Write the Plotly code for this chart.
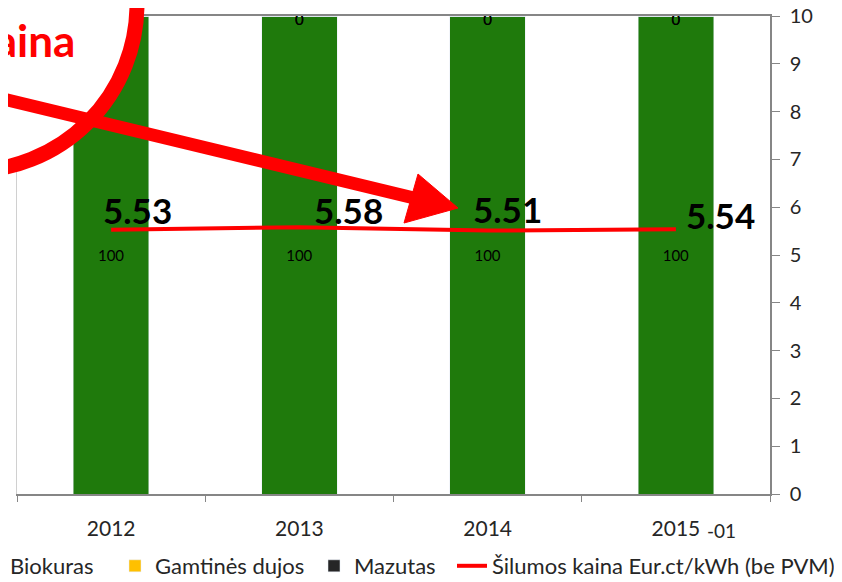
import plotly.graph_objects as go

# ---- data ----
years = ["2012", "2013", "2014", "2015"]
biokuras = [100, 100, 100, 100]
gamtines_dujos = [0, 0, 0, 0]
mazutas = [0, 0, 0, 0]
kaina = [5.53, 5.58, 5.51, 5.54]
right_ticks = [0, 1, 2, 3, 4, 5, 6, 7, 8, 9, 10]

# ---- layout geometry (screen pixels; page body has an 8px margin) ----
OFF = 8
W, H = 842 - OFF, 582 - OFF
PLOT_L, PLOT_R, PLOT_T, PLOT_B = 17, 770, 16, 494
L = PLOT_L - OFF
T = PLOT_T - OFF
R = W - (PLOT_R - OFF)
B = H - (PLOT_B - OFF)
PW, PH = PLOT_R - PLOT_L, PLOT_B - PLOT_T


def px(x):
    return (x - PLOT_L) / PW


def py(y):
    return (PLOT_B - y) / PH


FONT = "Lato"
GREEN = "#1f7a0c"
YELLOW = "#ffc000"
BLACK = "#262626"
RED = "#ff0000"

fig = go.Figure()

fig.add_trace(go.Bar(
    name="Biokuras", x=years, y=biokuras, marker_color=GREEN,
    text=[str(v) for v in biokuras], textposition="inside",
    insidetextanchor="middle", textangle=0,
    textfont=dict(family=FONT, size=15, color="#000000"),
    legend="legend",
))
fig.add_trace(go.Bar(
    name="Gamtinės dujos", x=years, y=gamtines_dujos, marker_color=YELLOW,
    textposition="none", legend="legend2",
))
fig.add_trace(go.Bar(
    name="Mazutas", x=years, y=mazutas, marker_color=BLACK,
    textposition="none", legend="legend3",
))
# zero labels on top of each stack (drawn on a label axis nudged slightly
# so the text sits just under the top border, as in the original)
tops = [b + g for b, g in zip(biokuras, gamtines_dujos)]
tops2 = [t + m for t, m in zip(tops, mazutas)]
for series, ys in ((gamtines_dujos, tops), (mazutas, tops2)):
    fig.add_trace(go.Scatter(
        x=years, y=ys, mode="text", text=[str(v) for v in series],
        textposition="middle center", showlegend=False, hoverinfo="skip",
        textfont=dict(family=FONT, size=15, color="#000000"),
        cliponaxis=False, yaxis="y3",
    ))
fig.add_trace(go.Scatter(
    name="Šilumos kaina Eur.ct/kWh (be PVM)", x=years, y=kaina,
    mode="lines", line=dict(color=RED, width=4), yaxis="y2",
    legend="legend4",
))

annotations = []

# price labels
offsets = [(26, 20), (49, 17), (20, 22), (45, 14)]
for i, (v, (dx, dy)) in enumerate(zip(kaina, offsets)):
    annotations.append(dict(
        x=i, y=v, xref="x", yref="y2", text=f"<b>{v:.2f}</b>",
        showarrow=False, xshift=dx, yshift=dy,
        font=dict(family=FONT, size=35, color="#000000"),
    ))

# "-01" suffix for the last category
annotations.append(dict(
    x=len(years) - 1, y=py(530), xref="x", yref="paper", text="-01",
    showarrow=False, xshift=46, xanchor="center", yanchor="middle",
    font=dict(family=FONT, size=19, color=BLACK),
))

# callout text
annotations.append(dict(
    x=px(77), y=py(40), xref="paper", yref="paper", xanchor="right",
    yanchor="middle", text="<b>Šilumos kaina</b>", showarrow=False,
    font=dict(family=FONT, size=44, color=RED),
))

CX, CY, CR = -30, 4, 167
shapes = [
    # white-filled red circle
    dict(type="circle", xref="paper", yref="paper",
         x0=px(CX - CR), x1=px(CX + CR), y0=py(CY + CR), y1=py(CY - CR),
         line=dict(color=RED, width=15), fillcolor="white", layer="above"),
    # arrow shaft
    dict(type="line", xref="paper", yref="paper",
         x0=px(-5), y0=py(97), x1=px(414), y1=py(198),
         line=dict(color=RED, width=13), layer="above"),
    # arrow head
    dict(type="path", xref="paper", yref="paper",
         path=(f"M {px(458)},{py(208)} L {px(418)},{py(174)} "
               f"L {px(404)},{py(223)} Z"),
         fillcolor=RED, line=dict(color=RED, width=1), layer="above"),
]

legend_text_x = [10, 155, 354, 492]
legends = {}
for k, tx in zip(["legend", "legend2", "legend3", "legend4"], legend_text_x):
    legends[k] = dict(orientation="h", x=px(tx - 40), xanchor="left",
                      y=py(566), yanchor="middle",
                      font=dict(family=FONT, size=22, color=BLACK),
                      bgcolor="rgba(0,0,0,0)", borderwidth=0)

fig.update_layout(
    width=W, height=H,
    margin=dict(l=L, r=R, t=T, b=B, autoexpand=False),
    paper_bgcolor="white", plot_bgcolor="white",
    barmode="stack", bargap=0.6,
    font=dict(family=FONT, size=20, color=BLACK),
    showlegend=True,
    xaxis=dict(type="category", tickson="boundaries", ticks="outside",
               range=[-0.5, len(years) - 0.5], automargin=False,
               ticklen=6, tickcolor="#868686", showline=True,
               linecolor="#868686", linewidth=1.5, mirror=True,
               showgrid=False, tickangle=0, ticklabelstandoff=15,
               tickfont=dict(family=FONT, size=21, color=BLACK)),
    yaxis=dict(range=[0, 100], showgrid=False, showticklabels=False,
               ticks="", showline=True, linecolor="#d0d0d0", zeroline=False,
               automargin=False),
    yaxis3=dict(range=[1, 101], overlaying="y", visible=False,
                automargin=False),
    yaxis2=dict(range=[0, 10], overlaying="y", side="right",
                tickvals=right_ticks, ticks="outside", ticklen=8,
                tickcolor="#868686", showline=True, linecolor="#868686",
                linewidth=1.5, showgrid=False, zeroline=False,
                automargin=False, ticklabelstandoff=6,
                ticklabeloverflow="allow",
                tickfont=dict(family=FONT, size=20, color=BLACK)),
    annotations=annotations,
    shapes=shapes,
    **legends,
)

fig.write_html("out.html")
